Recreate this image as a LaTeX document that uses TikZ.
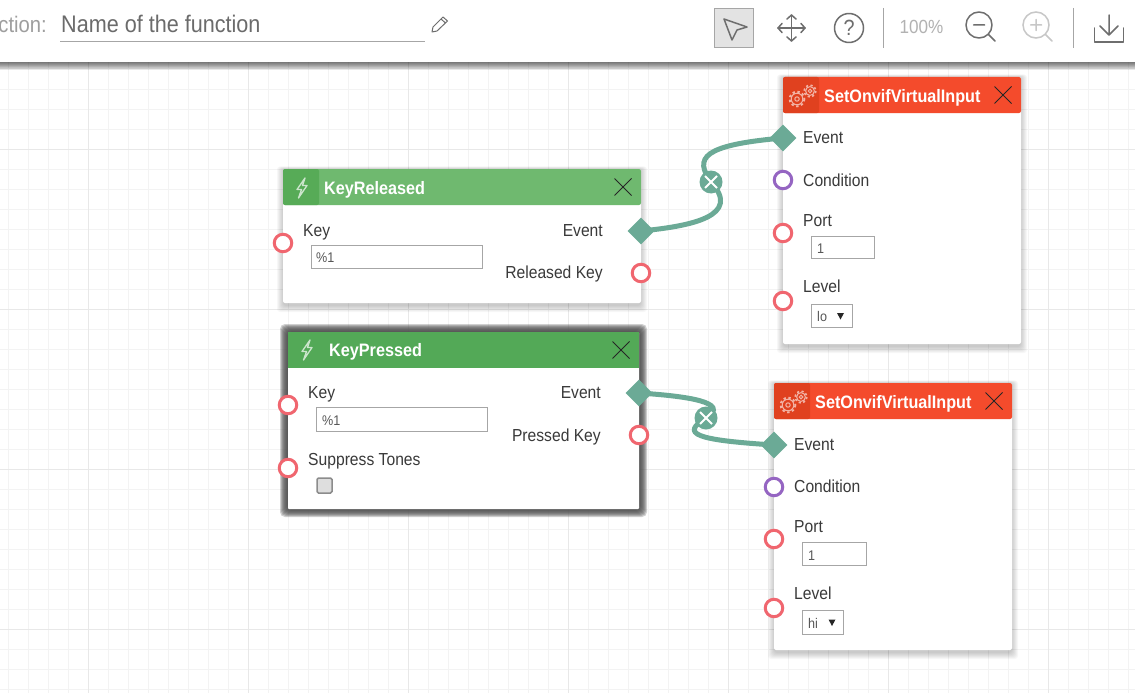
\documentclass[tikz,border=0pt]{standalone}
\usepackage{fontspec}
\setmainfont{Liberation Sans}[FakeStretch=0.9]
\usetikzlibrary{shapes.geometric}
\definecolor{gridmin}{HTML}{F3F3F3}
\definecolor{gridmaj}{HTML}{E8E8E8}
\definecolor{wire}{HTML}{6BAA96}
\definecolor{portred}{HTML}{F0666F}
\definecolor{portpur}{HTML}{9565C2}
\definecolor{txt}{HTML}{3A3A3A}
\definecolor{iconc}{HTML}{6E6E6E}
\definecolor{grnA}{HTML}{6FB96F}
\definecolor{grnAc}{HTML}{57AB57}
\definecolor{grnB}{HTML}{53A957}
\definecolor{redA}{HTML}{F44B2C}
\definecolor{redAc}{HTML}{E0411F}
\tikzset{
  x=1pt,y=-1pt,
  lab/.style={font=\fontsize{17.4}{19}\selectfont,text=txt,inner sep=0pt,anchor=base west},
  labr/.style={lab,anchor=base east},
  title/.style={font=\fontsize{18}{20}\selectfont\bfseries,text=white,inner sep=0pt,anchor=base west},
  val/.style={font=\fontsize{14}{16}\selectfont,text=txt!85,inner sep=0pt,anchor=base west},
  inbox/.style={draw=black!35,line width=1pt,fill=white},
  redport/.style={circle,draw=portred,fill=white,line width=3pt,minimum size=17.5pt,inner sep=0pt},
  purport/.style={circle,draw=portpur,fill=white,line width=3pt,minimum size=17.5pt,inner sep=0pt},
  evport/.style={diamond,fill=wire,minimum size=27pt,inner sep=0pt,aspect=1},
  wireline/.style={draw=wire,line width=5pt,line cap=round},
  delmark/.style={circle,fill=wire,minimum size=23pt,inner sep=0pt},
  closex/.style={draw=black!85,line width=.8pt},
  ico/.style={draw=iconc,line width=1.5pt,line cap=round,line join=round},
  icolight/.style={draw=black!22,line width=1.5pt,line cap=round},
  bolt/.style={draw=white,draw opacity=.7,line width=1.3pt,line join=round},
  gear/.style={draw=white,draw opacity=.6,line width=1pt},
}
% soft shadow: x0 y0 x1 y1
\newcommand{\softshadow}[4]{%
  \foreach \d in {1,...,7}{\fill[black,fill opacity=.03,rounded corners=3pt] (#1-7+\d,#2-3+.43*\d) rectangle (#3+7-\d,#4+10-\d);}%
}
\newcommand{\lightning}[2]{%
  \draw[bolt] (#1+3,#2-10) -- (#1-5,#2+1.5) -- (#1-0.5,#2+1.5) -- (#1-3.5,#2+10) -- (#1+5,#2-2.5) -- (#1+0.5,#2-2.5) -- cycle;}
\newcommand{\cogs}[2]{%
  \draw[gear] (#1-5,#2+3) circle (5.8) (#1-5,#2+3) circle (2.2);
  \draw[gear,line width=1.8pt,dash pattern=on 2.4pt off 2.6pt] (#1-5,#2+3) circle (7.4);
  \draw[gear] (#1+8,#2-5) circle (4.4) (#1+8,#2-5) circle (1.8);
  \draw[gear,line width=1.6pt,dash pattern=on 2.2pt off 2.4pt] (#1+8,#2-5) circle (5.8);}
\newcommand{\closemark}[2]{\draw[closex] (#1-8.5,#2-8.5) -- (#1+8.5,#2+8.5) (#1-8.5,#2+8.5) -- (#1+8.5,#2-8.5);}
\begin{document}
\begin{tikzpicture}
\useasboundingbox (0,0) rectangle (1135,693);
\clip (0,0) rectangle (1135,693);
\fill[white] (0,0) rectangle (1135,693);
% grid
\foreach \gx in {8,28,...,1128} \draw[gridmin,line width=1pt] (\gx,62) -- (\gx,693);
\foreach \gy in {69,89,...,689} \draw[gridmin,line width=1pt] (0,\gy) -- (1135,\gy);
\foreach \gx in {88,248,...,1128} \draw[gridmaj,line width=1pt] (\gx,62) -- (\gx,693);
\foreach \gy in {149,309,469,629} \draw[gridmaj,line width=1pt] (0,\gy) -- (1135,\gy);
% toolbar
\foreach \d in {0,...,7}{\fill[black,fill opacity=.085] (0,62) rectangle (1135,70-\d);}
\fill[white] (0,0) rectangle (1135,62);
\node[font=\fontsize{22.5}{25}\selectfont,text=black!38,inner sep=0pt,anchor=base east] (fnlabel) at (47,33) {ction:};
\node[font=\fontsize{24}{26}\selectfont,text=black!58,inner sep=0pt,anchor=base west] (fnname) at (61,33) {Name of the function};
\draw[black!35,line width=1pt] (60,41.5) -- (425,41.5);
% pencil
\draw[ico,line width=1pt] (432,32) -- (433,27) -- (443,17) -- (447.5,21) -- (437,31) -- cycle (441,19) -- (445.5,23);
% select button
\draw[fill=black!11,draw=black!35,line width=1pt] (714.5,8.5) rectangle (753.5,47.5);
\draw[ico] (724,19) -- (747,27) -- (737,30) -- (732,40) -- cycle;
% move
\draw[ico] (778,28) -- (805,28) (791.5,15) -- (791.5,41);
\draw[ico] (782,23.5) -- (778,28) -- (782,32.5) (801,23.5) -- (805,28) -- (801,32.5) (787,19) -- (791.5,15) -- (796,19) (787,37) -- (791.5,41) -- (796,37);
% help
\draw[ico] (849,28) circle (14.5);
\node[font=\fontsize{22}{23}\selectfont,text=iconc,inner sep=0pt] (helpq) at (849,28) {?};
\draw[black!35,line width=1pt] (883.5,8) -- (883.5,48);
\node[font=\fontsize{19}{22}\selectfont,text=black!30,inner sep=0pt] (zoomval) at (921.5,26.5) {100\%};
% zoom out
\draw[ico] (979,25) circle (13);
\draw[ico] (988.5,34.5) -- (995,41) (973.5,25) -- (984.5,25);
% zoom in
\draw[icolight] (1036,25) circle (13);
\draw[icolight] (1045.5,34.5) -- (1052,41) (1030.5,25) -- (1041.5,25) (1036,19.5) -- (1036,30.5);
\draw[black!35,line width=1pt] (1073.5,8) -- (1073.5,48);
% download
\draw[ico] (1094.5,28) -- (1094.5,42) -- (1123.5,42) -- (1123.5,28);
\draw[ico] (1109,15) -- (1109,35) (1100,26) -- (1109,35) -- (1118,26);

% card KeyReleased
\softshadow{283}{169}{641}{303}
\fill[white,rounded corners=2pt] (283,169) rectangle (641,303);
\fill[grnA,rounded corners=2pt] (283,205) -- (283,169) -- (641,169) -- (641,205) -- cycle;
\fill[grnAc,rounded corners=2pt] (319,205) -- (283,205) -- (283,169) -- (319,169) -- cycle;
\lightning{302}{188}
\node[title] (krT) at (324,194) {KeyReleased};
\closemark{623}{187}
\node[lab] (krKey) at (303,236.5) {Key};
\draw[inbox] (311.5,245.5) rectangle (482.5,268.5);
\node[val] (krVal) at (316,262) {\%1};
\node[labr] (krEv) at (603,236.5) {Event};
\node[labr] (krRel) at (603,278.5) {Released Key};

% card KeyPressed
\foreach \d in {1,...,8}{\fill[black!70,fill opacity=.26,rounded corners=5pt] (288-9+\d,332-9+\d) rectangle (639+9-\d,509+9-\d);}
\fill[white,rounded corners=1pt] (288,332) rectangle (639,509);
\fill[grnB] (288,332) rectangle (639,368);
\lightning{307}{350}
\node[title] (kpT) at (329,356) {KeyPressed};
\closemark{621}{350}
\node[lab] (kpKey) at (308,398.5) {Key};
\draw[inbox] (316.5,407.5) rectangle (487.5,431.5);
\node[val] (kpVal) at (322,425) {\%1};
\node[lab] (kpSup) at (308,465.5) {Suppress Tones};
\draw[draw=black!45,fill=black!13,line width=1.5pt,rounded corners=1.5pt] (317,478) rectangle (332,493);
\node[labr] (kpEv) at (601,398.5) {Event};
\node[labr] (kpPr) at (601,441.5) {Pressed Key};

% card Set 1
\softshadow{783}{77}{1021}{344}
\fill[white,rounded corners=2pt] (783,77) rectangle (1021,344);
\fill[redA,rounded corners=2pt] (783,113) -- (783,77) -- (1021,77) -- (1021,113) -- cycle;
\fill[redAc,rounded corners=2pt] (819,113) -- (783,113) -- (783,77) -- (819,77) -- cycle;
\cogs{802}{96}
\node[title] (s1T) at (824,102) {SetOnvifVirtualInput};
\closemark{1003}{95}
\node[lab] (s1Ev) at (803,143.5) {Event};
\node[lab] (s1Co) at (803,186.5) {Condition};
\node[lab] (s1Po) at (803,226.5) {Port};
\draw[inbox] (811.5,236.5) rectangle (874.5,258.5);
\node[val] (s1Pv) at (817,253) {1};
\node[lab] (s1Le) at (803,292.5) {Level};
\draw[inbox] (811.5,304.5) rectangle (852.5,327.5);
\node[val] (s1Lv) at (817,321) {lo};
\fill[black!85] (837,313) -- (844,313) -- (840.5,319.5) -- cycle;

% card Set 2
\softshadow{774}{383}{1012}{650}
\fill[white,rounded corners=2pt] (774,383) rectangle (1012,650);
\fill[redA,rounded corners=2pt] (774,419) -- (774,383) -- (1012,383) -- (1012,419) -- cycle;
\fill[redAc,rounded corners=2pt] (810,419) -- (774,419) -- (774,383) -- (810,383) -- cycle;
\cogs{793}{402}
\node[title] (s2T) at (815,408) {SetOnvifVirtualInput};
\closemark{994}{401}
\node[lab] (s2Ev) at (794,450.5) {Event};
\node[lab] (s2Co) at (794,492.5) {Condition};
\node[lab] (s2Po) at (794,532.5) {Port};
\draw[inbox] (802.5,542.5) rectangle (866.5,565.5);
\node[val] (s2Pv) at (808,560) {1};
\node[lab] (s2Le) at (794,599.5) {Level};
\draw[inbox] (802.5,610.5) rectangle (843.5,634.5);
\node[val] (s2Lv) at (808,628) {hi};
\fill[black!85] (828.5,619.5) -- (835.5,619.5) -- (832,626) -- cycle;

% ports and connectors
\coordinate (mA) at (711,182);
\coordinate (mB) at (706,418);
\coordinate (krEvP) at (641,231);
\coordinate (kpEvP) at (639,393);
\coordinate (s1EvP) at (783,138);
\coordinate (s2EvP) at (774,445);
\draw[wireline] (krEvP) .. controls (692,226) and (742,216) .. (mA);
\draw[wireline] (mA) .. controls (694,158) and (702,145) .. (s1EvP);
\draw[wireline] (kpEvP) .. controls (685,396) and (732,402) .. (mB);
\draw[wireline] (mB) .. controls (680,434) and (695,440) .. (s2EvP);
\node[evport] (pKrEv) at (krEvP) {};
\node[evport] (pKpEv) at (kpEvP) {};
\node[evport] (pS1Ev) at (s1EvP) {};
\node[evport] (pS2Ev) at (s2EvP) {};
\node[delmark] (xA) at (mA) {};
\node[delmark] (xB) at (mB) {};
\draw[white,line width=1.8pt] (705,176) -- (717,188) (705,188) -- (717,176);
\draw[white,line width=1.8pt] (700,412) -- (712,424) (700,424) -- (712,412);
\node[redport] (pKrKey) at (283,243) {};
\node[redport] (pKrRel) at (641,273) {};
\node[redport] (pKpKey) at (288,405) {};
\node[redport] (pKpSup) at (288,468) {};
\node[redport] (pKpPr) at (639,435) {};
\node[purport] (pS1Co) at (783,180) {};
\node[redport] (pS1Po) at (783,233) {};
\node[redport] (pS1Le) at (783,301) {};
\node[purport] (pS2Co) at (774,487) {};
\node[redport] (pS2Po) at (774,539) {};
\node[redport] (pS2Le) at (774,608) {};
\end{tikzpicture}
\end{document}
